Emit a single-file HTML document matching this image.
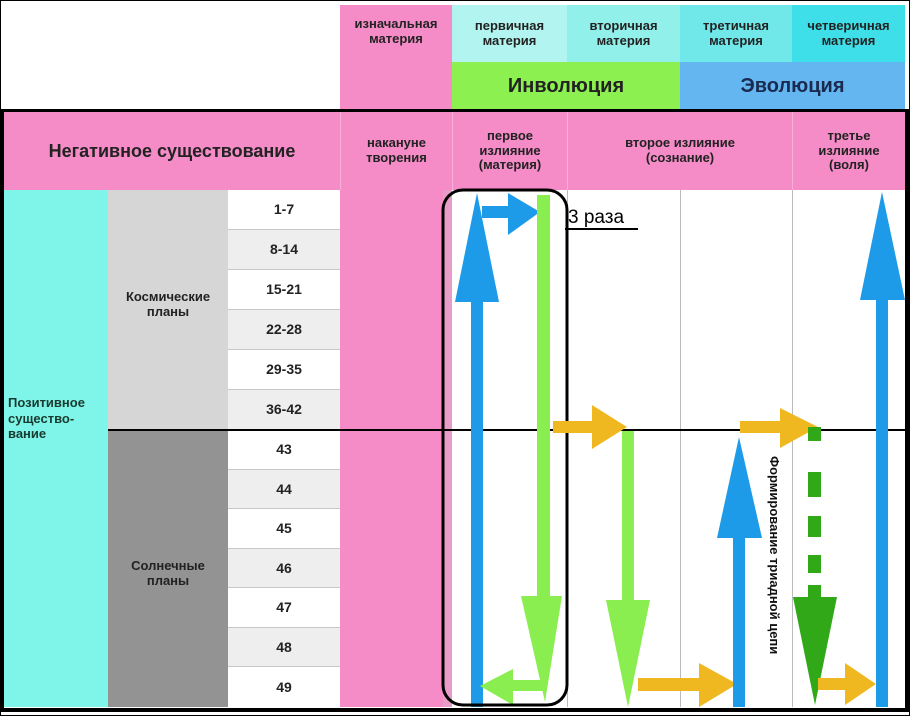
<!DOCTYPE html>
<html><head><meta charset="utf-8"><style>
*{margin:0;padding:0;box-sizing:border-box}
body{width:910px;height:716px;position:relative;background:#fff;font-family:"Liberation Sans","DejaVu Sans",sans-serif;overflow:hidden}
.a{position:absolute;display:flex;align-items:center;justify-content:center;text-align:center;font-weight:bold;color:#222;line-height:1.15}
.s{font-size:13px}
.n{font-size:14px;border-bottom:1px solid #c8c8c8}
</style></head><body>
<div style="position:absolute;left:0;top:0;width:910px;height:716px;border:1px solid #000"></div>
<div class="a s" style="left:340px;top:5px;width:112px;height:57px;background:#f58cc8;align-items:flex-start;padding-top:12px">изначальная<br>материя</div>
<div class="a s" style="left:340px;top:62px;width:112px;height:48px;background:#f58cc8"></div>
<div class="a s" style="left:452px;top:5px;width:115px;height:57px;background:#b2f5f0">первичная<br>материя</div>
<div class="a s" style="left:567px;top:5px;width:113px;height:57px;background:#92f0ea">вторичная<br>материя</div>
<div class="a s" style="left:680px;top:5px;width:112px;height:57px;background:#70e8ea">третичная<br>материя</div>
<div class="a s" style="left:792px;top:5px;width:113px;height:57px;background:#3edfe8">четверичная<br>материя</div>
<div class="a" style="left:452px;top:62px;width:228px;height:48px;background:#8cf050;font-size:20px">Инволюция</div>
<div class="a" style="left:680px;top:62px;width:225px;height:48px;background:#64b6f0;font-size:20px;color:#1a2a50">Эволюция</div>
<div style="position:absolute;left:0;top:109px;width:909px;height:603px;border:4px solid #000;border-top-width:3px"></div>
<div class="a" style="left:4px;top:112px;width:336px;height:78px;background:#f58cc8;font-size:18px">Негативное существование</div>
<div class="a s" style="left:340px;top:112px;width:112px;height:78px;background:#f58cc8;border-left:1px solid #f9b0d8">накануне<br>творения</div>
<div class="a s" style="left:452px;top:112px;width:115px;height:78px;background:#f58cc8;border-left:1px solid #f9b0d8">первое<br>излияние<br>(материя)</div>
<div class="a s" style="left:567px;top:112px;width:225px;height:78px;background:#f58cc8;border-left:1px solid #f9b0d8">второе излияние<br>(сознание)</div>
<div class="a s" style="left:792px;top:112px;width:113px;height:78px;background:#f58cc8;border-left:1px solid #f9b0d8">третье<br>излияние<br>(воля)</div>
<div style="position:absolute;left:4px;top:190px;width:104px;height:517px;background:#7ef5e8"></div>
<div class="s" style="position:absolute;left:8px;top:395px;font-weight:bold;line-height:1.2;color:#1a3a30">Позитивное<br>существо-<br>вание</div>
<div class="a s" style="left:108px;top:190px;width:120px;height:240px;background:#d6d6d6;padding-bottom:10px">Космические<br>планы</div>
<div class="a s" style="left:108px;top:430px;width:120px;height:277px;background:#939393;padding-top:10px">Солнечные<br>планы</div>
<div style="position:absolute;left:340px;top:190px;width:112px;height:517px;background:#f58cc8"></div>
<div style="position:absolute;left:443px;top:190px;width:9px;height:517px;background:#e89cc8"></div>
<div style="position:absolute;left:567px;top:190px;width:1px;height:517px;background:#bbb"></div>
<div style="position:absolute;left:680px;top:190px;width:1px;height:517px;background:#bbb"></div>
<div style="position:absolute;left:792px;top:190px;width:1px;height:517px;background:#bbb"></div>
<div class="a n" style="left:228px;top:190px;width:112px;height:40px;background:#fff">1-7</div>
<div class="a n" style="left:228px;top:230px;width:112px;height:40px;background:#eee">8-14</div>
<div class="a n" style="left:228px;top:270px;width:112px;height:40px;background:#fff">15-21</div>
<div class="a n" style="left:228px;top:310px;width:112px;height:40px;background:#eee">22-28</div>
<div class="a n" style="left:228px;top:350px;width:112px;height:40px;background:#fff">29-35</div>
<div class="a n" style="left:228px;top:390px;width:112px;height:40px;background:#eee">36-42</div>
<div class="a n" style="left:228px;top:430px;width:112px;height:40px;background:#fff">43</div>
<div class="a n" style="left:228px;top:470px;width:112px;height:39px;background:#eee">44</div>
<div class="a n" style="left:228px;top:509px;width:112px;height:40px;background:#fff">45</div>
<div class="a n" style="left:228px;top:549px;width:112px;height:39px;background:#eee">46</div>
<div class="a n" style="left:228px;top:588px;width:112px;height:40px;background:#fff">47</div>
<div class="a n" style="left:228px;top:628px;width:112px;height:39px;background:#eee">48</div>
<div class="a n" style="left:228px;top:667px;width:112px;height:40px;background:#fff;border:none">49</div>
<div style="position:absolute;left:108px;top:429px;width:797px;height:2px;background:#000"></div>
<svg style="position:absolute;left:0;top:0" width="910" height="716">
<rect x="471" y="295" width="12" height="412" fill="#1e9be8"/>
<polygon points="477,193 455,302 499,302" fill="#1e9be8"/>
<rect x="482" y="206" width="30" height="12" fill="#1e9be8"/>
<polygon points="508,193 540,212 508,235" fill="#1e9be8"/>
<rect x="537" y="195" width="13" height="410" fill="#8aee50"/>
<polygon points="521,596 562,596 545,702" fill="#8aee50"/>
<rect x="500" y="680" width="45" height="11" fill="#8aee50"/>
<polygon points="480,686 513,669 513,705" fill="#8aee50"/>
<rect x="443" y="190" width="124" height="515" rx="20" fill="none" stroke="#000" stroke-width="3"/>
<text x="568" y="223" font-family="Liberation Sans" font-size="19" fill="#000">3 раза</text>
<line x1="565" y1="229" x2="638" y2="229" stroke="#000" stroke-width="2"/>
<rect x="553" y="421" width="45" height="12" fill="#f0b820"/>
<polygon points="592,405 627,427 592,449" fill="#f0b820"/>
<rect x="622" y="431" width="12" height="175" fill="#8aee50"/>
<polygon points="606,600 650,600 628,707" fill="#8aee50"/>
<rect x="638" y="678" width="65" height="13" fill="#f0b820"/>
<polygon points="699,663 737,684 699,707" fill="#f0b820"/>
<rect x="733" y="530" width="12" height="177" fill="#1e9be8"/>
<polygon points="739,437 717,538 762,538" fill="#1e9be8"/>
<rect x="740" y="421" width="45" height="12" fill="#f0b820"/>
<polygon points="780,408 818,427 780,448" fill="#f0b820"/>
<rect x="808" y="427" width="13" height="14" fill="#30a818"/>
<rect x="808" y="472" width="13" height="25" fill="#30a818"/>
<rect x="808" y="516" width="13" height="21" fill="#30a818"/>
<rect x="808" y="555" width="13" height="18" fill="#30a818"/>
<rect x="808" y="585" width="13" height="15" fill="#30a818"/>
<polygon points="793,597 837,597 815,705" fill="#30a818"/>
<text transform="translate(770,456) rotate(90)" font-family="Liberation Sans" font-weight="bold" font-size="13" fill="#111">Формирование триадной цепи</text>
<rect x="818" y="678" width="32" height="12" fill="#f0b820"/>
<polygon points="845,663 876,684 845,705" fill="#f0b820"/>
<rect x="876" y="295" width="12" height="412" fill="#1e9be8"/>
<polygon points="882,192 860,300 905,300" fill="#1e9be8"/>
</svg>
</body></html>
